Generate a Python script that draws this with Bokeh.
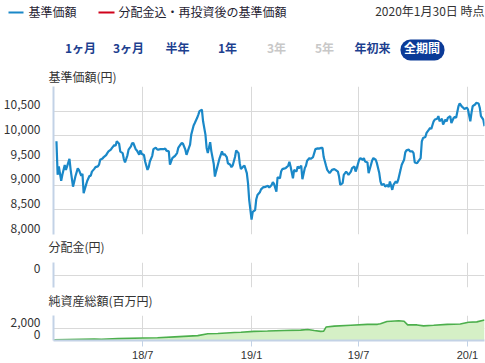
import pandas as pd
from bokeh.plotting import figure
from bokeh.models import Range1d, FixedTicker, BoxAnnotation, Label, DatetimeAxis
from bokeh.layouts import column
from bokeh.embed import file_html
from bokeh.resources import INLINE

FONT = "Noto Sans CJK JP"
XFONT = "Liberation Sans"

# ---------------- data ----------------
price_end = "2020-01-30"          # last valuation date; one point every 2 business days
price_values = [
    9890, 9210, 9380, 9090, 9210, 9410, 9310, 9380, 9535, 9310,
    8970, 9070, 9175, 9340, 9310, 9190, 9230, 8835, 9005, 9085,
    9190, 9190, 9275, 9330, 9365, 9380, 9415, 9515, 9540, 9570,
    9610, 9650, 9685, 9720, 9755, 9815, 9800, 9890, 9840, 9680,
    9650, 9530, 9460, 9605, 9720, 9785, 9850, 9855, 9730, 9705,
    9615, 9705, 9635, 9610, 9480, 9310, 9365, 9480, 9595, 9730,
    9760, 9730, 9720, 9730, 9730, 9730, 9745, 9700, 9685, 9415,
    9550, 9570, 9585, 9650, 9755, 9825, 9855, 9840, 9720, 9615,
    9755, 9820, 10025, 10210, 10260, 10365, 10430, 10500, 10530, 10295,
    10025, 9755, 9650, 9870, 9685, 9435, 9175, 9275, 9460, 9550,
    9685, 9615, 9635, 9570, 9445, 9415, 9365, 9395, 9570, 9705,
    9650, 9445, 9325,
    9380, 9395, 9245, 9040, 8700, 8300, 8460, 8495, 8715, 8800,
    8855, 8915, 8960, 8960, 8970, 8985, 8950, 9005, 9060, 9025,
    8870, 9160, 9140, 9275, 9325, 9340, 9350, 9395, 9475, 9380,
    9140, 9310, 9275, 9380, 9345, 9395, 9120, 9345, 9395, 9495,
    9550, 9530, 9570, 9650, 9730, 9745, 9740, 9755, 9755, 9570,
    9395, 9310, 9245, 9275, 9310, 9325, 9310, 9275, 9175, 9005,
    9040, 9210, 9275, 9245, 9210, 9275, 9345, 9380, 9275, 9345,
    9515, 9550, 9515, 9550, 9480, 9460, 9245, 9415, 9500, 9550,
    9515, 9445, 9245, 9075, 9005, 9025, 8970, 9005, 8960, 9075,
    8905, 9005, 9075, 9040, 9105, 9310, 9415, 9515, 9665, 9705,
    9720, 9685, 9685, 9650, 9460, 9445, 9480, 9550, 9890, 9955,
    9975, 10060, 10125, 10160, 10140, 10295, 10330, 10345, 10400, 10295,
    10345, 10230, 10330, 10295, 10365, 10400, 10260, 10365, 10385, 10365,
    10600, 10655, 10590, 10570, 10545, 10570, 10535, 10295, 10465, 10600,
    10635, 10670, 10655, 10570, 10400, 10330, 10195,
]

nav_dates = [
    "2018-02-01", "2018-02-24", "2018-04-10", "2018-04-22", "2018-05-20",
    "2018-07-01", "2018-07-26", "2018-08-24", "2018-10-02", "2018-10-19",
    "2018-11-05", "2018-12-03", "2018-12-14", "2019-01-05", "2019-01-28",
    "2019-02-25", "2019-03-25", "2019-04-06", "2019-04-17", "2019-04-28",
    "2019-05-03", "2019-05-07", "2019-05-21", "2019-06-18", "2019-07-16",
    "2019-08-02", "2019-08-07", "2019-08-18", "2019-09-07", "2019-09-16",
    "2019-09-22", "2019-10-08", "2019-10-19", "2019-11-05", "2019-11-28",
    "2019-12-20", "2020-01-03", "2020-01-17", "2020-01-30",
]
nav_values = [
    105, 160, 260, 210, 315,
    420, 470, 630, 840, 1155,
    1210, 1365, 1420, 1575, 1630,
    1730, 1785, 1890, 1730, 1575,
    1600, 2310, 2470, 2625, 2780,
    2780, 2890, 3255, 3410, 3310,
    2680, 2680, 2520, 2625, 2780,
    2835, 3150, 3200, 3520,
]

dist_dates = []
dist_values = []

period_start = "2018-01-31"
period_end = "2020-01-30"
tick_dates = ["2018-07-01", "2019-01-01", "2019-07-01", "2020-01-01"]
tick_labels = ["18/7", "19/1", "19/7", "20/1"]
price_ticks = [8000, 8500, 9000, 9500, 10000, 10500, 11000]
price_labels = ["8,000", "8,500", "9,000", "9,500", "10,000", "10,500", ""]
dist_ticks = [0]
dist_labels = ["0"]
nav_ticks = [0, 2000, 4300]
nav_labels = ["0", "2,000", ""]

legend_labels = ["基準価額", "分配金込・再投資後の基準価額"]
period_buttons = ["1ヶ月", "3ヶ月", "半年", "1年", "3年", "5年", "年初来", "全期間"]
as_of = "2020年1月30日 時点"
panel_titles = ["基準価額(円)", "分配金(円)", "純資産総額(百万円)"]

# ---------------- styles ----------------
W = 485
LEFT, RIGHT = 52, 1
GRID = "#d9d9d9"
AXIS = "#c3d2e6"
TXT = "#333333"
BLUE = "#1a88c8"
RED = "#d0021b"
NAVY = "#1d3f8f"
PILL = "#0b3a97"
LABEL_LIFT_PX = 6.5   # the reference draws y labels a little above their grid lines

price_dates = pd.date_range(end=price_end, periods=len(price_values), freq="2B")
nav_dt = pd.to_datetime(nav_dates)
dist_dt = pd.to_datetime(dist_dates)
tick_ms = [pd.Timestamp(d).value / 1e6 for d in tick_dates]
xr = Range1d(start=pd.Timestamp(period_start), end=pd.Timestamp(period_end))


def strip(height):
    # x and y in these strips are page pixels (frame spans the whole strip)
    s = figure(width=W, height=height, x_range=Range1d(0, W), y_range=Range1d(height, 0),
               x_axis_location=None, y_axis_location=None, toolbar_location=None,
               output_backend="svg", min_border=0)
    if "frame_align" in s.properties():
        s.frame_align = False
    s.grid.visible = False
    s.outline_line_color = None
    return s


def put(fig, x, y, text, color=TXT, bold=False, align="left"):
    fig.add_layout(Label(x=x, y=y, text=text, text_font=FONT, text_font_size="12px",
                         text_font_style="bold" if bold else "normal", text_color=color,
                         text_align=align, text_baseline="middle"))


def panel(height, lo, hi, top, bottom, ticks, labels):
    p = figure(width=W, height=height, x_range=xr, y_range=Range1d(lo, hi), x_axis_type="datetime",
               x_axis_location=None, toolbar_location=None, output_backend="svg",
               min_border_left=LEFT, min_border_right=RIGHT, min_border_top=top,
               min_border_bottom=bottom)
    p.outline_line_color = None
    p.xgrid.ticker = FixedTicker(ticks=tick_ms)
    p.ygrid.ticker = FixedTicker(ticks=ticks)
    p.grid.grid_line_color = GRID
    p.grid.grid_line_width = 1
    frame_h = height - top - bottom
    lift = LABEL_LIFT_PX * (hi - lo) / frame_h
    label_ticks = [t + lift for t in ticks]
    ax = p.yaxis[0]
    ax.ticker = FixedTicker(ticks=label_ticks)
    ax.major_label_overrides = {lt: lab for lt, lab in zip(label_ticks, labels)}
    ax.axis_line_color = AXIS
    ax.axis_line_width = 2
    ax.major_tick_line_color = None
    ax.major_tick_in = 0
    ax.major_tick_out = 0
    ax.minor_tick_line_color = None
    ax.major_label_standoff = 13
    ax.major_label_text_font = FONT
    ax.major_label_text_font_size = "12px"
    ax.major_label_text_color = TXT
    ax.axis_label_standoff = 0
    return p


# ---------------- header ----------------
hdr = strip(86)
hdr.add_layout(BoxAnnotation(left=8, right=23, top=11, bottom=13, fill_color=BLUE, fill_alpha=1,
                             line_color=None))
hdr.add_layout(BoxAnnotation(left=98, right=114, top=11, bottom=13, fill_color=RED, fill_alpha=1,
                             line_color=None))
put(hdr, 28, 11, legend_labels[0], color="#1f2333")
put(hdr, 118, 11, legend_labels[1], color="#1f2333")
put(hdr, 484, 10, as_of, align="right")
hdr.add_layout(BoxAnnotation(left=400, right=444, top=39, bottom=60, fill_color=PILL, fill_alpha=1,
                             line_color=None, border_radius=10, level="underlay"))
btn_x = [80, 128, 177, 227, 276, 324, 372, 421.5]
btn_col = [NAVY, NAVY, NAVY, NAVY, "#c8c8c8", "#c8c8c8", NAVY, "white"]
for bx, bt, bc in zip(btn_x, period_buttons, btn_col):
    put(hdr, bx, 47, bt, color=bc, bold=True, align="center")
put(hdr, 48, 76, panel_titles[0])

# ---------------- price panel ----------------
p1 = panel(150, price_ticks[0], price_ticks[-1], 0, 2, price_ticks, price_labels)
p1.line(price_dates, price_values, line_color=BLUE, line_width=2.2)

# ---------------- distribution ----------------
s2 = strip(22)
put(s2, 48, 10, panel_titles[1])
p3 = panel(32, -1, 1, 4, 3, dist_ticks, dist_labels)
p3.vbar(x=dist_dt, top=dist_values, width=86400000 * 5, color=BLUE)

# ---------------- net assets ----------------
s4 = strip(22)
put(s4, 48, 10, panel_titles[2])
p5 = panel(51, nav_ticks[0], nav_ticks[-1], 3, 21, nav_ticks, nav_labels)
p5.varea(x=nav_dt, y1=0, y2=nav_values, fill_color="#d5f0c6")
p5.line(nav_dt, nav_values, line_color="#4caf4c", line_width=1.6)

xa = DatetimeAxis(ticker=FixedTicker(ticks=tick_ms))
xa.major_label_overrides = {t: lab for t, lab in zip(tick_ms, tick_labels)}
xa.axis_line_color = AXIS
xa.axis_line_width = 2
xa.major_tick_line_color = AXIS
xa.major_tick_in = 0
xa.major_tick_out = 6
xa.minor_tick_line_color = None
xa.major_label_standoff = 2
xa.axis_label_standoff = 0
xa.major_label_text_font = XFONT
xa.major_label_text_font_size = "11px"
xa.major_label_text_color = TXT
p5.add_layout(xa, "below")

figs = [hdr, p1, s2, p3, s4, p5]
if "frame_align" in hdr.properties():
    layout = column(*figs, spacing=0)
else:
    layout = column(*[column(f, spacing=0) for f in figs], spacing=0)
open("out.html", "w").write(file_html(layout, INLINE))
